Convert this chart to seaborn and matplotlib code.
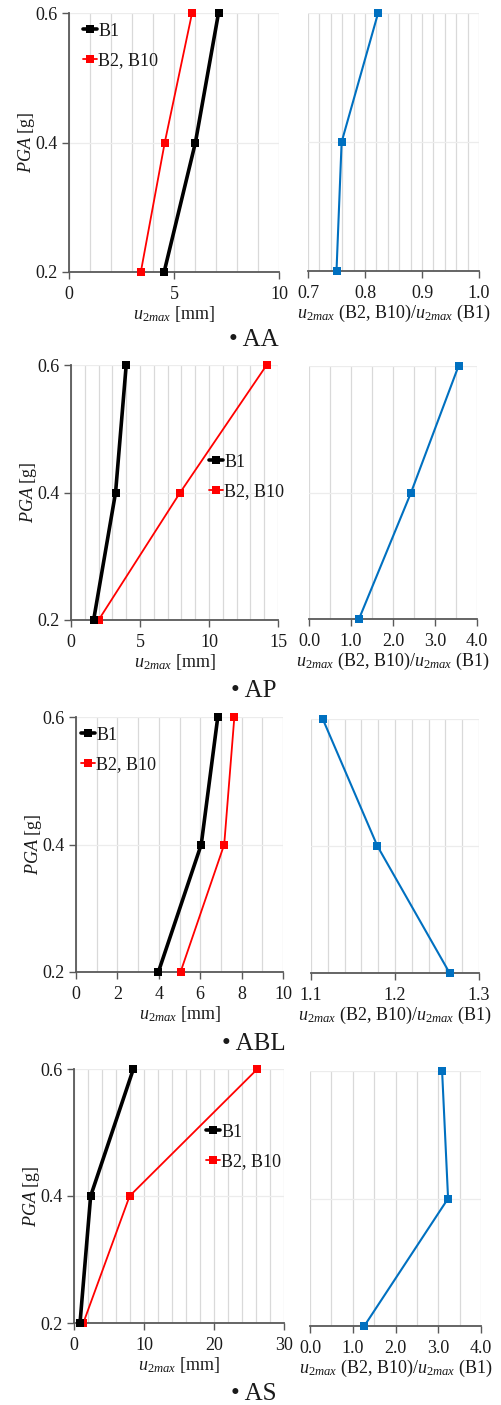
import numpy as np
import pandas as pd
import matplotlib
matplotlib.use("Agg")
import matplotlib.pyplot as plt
from matplotlib.ticker import MultipleLocator, FormatStrFormatter
import seaborn as sns

sns.set_style("white")
plt.rcParams['font.family'] = ['Liberation Serif', 'DejaVu Serif']
plt.rcParams['mathtext.fontset'] = 'custom'
plt.rcParams['mathtext.rm'] = 'Liberation Serif'
plt.rcParams['mathtext.it'] = 'Liberation Serif:italic'

# ---------------- data ----------------
pga = [0.2, 0.4, 0.6]
cases = ["AA", "AP", "ABL", "AS"]
b1 = {"AA": [4.53, 6.02, 7.12], "AP": [1.64, 3.23, 4.00],
      "ABL": [3.98, 6.05, 6.85], "AS": [0.86, 2.38, 8.48]}
b2b10 = {"AA": [3.42, 4.56, 5.86], "AP": [2.00, 7.91, 14.18],
         "ABL": [5.05, 7.16, 7.65], "AS": [1.33, 7.95, 26.2]}
ratio = {"AA": [0.750, 0.759, 0.823], "AP": [1.19, 2.43, 3.56],
         "ABL": [1.265, 1.179, 1.114], "AS": [1.27, 3.23, 3.09]}
series_labels = ["B1", "B2, B10"]

# ---------------- layout (pixels) ----------------
W, H = 501, 1405
fig = plt.figure(figsize=(W / 100, H / 100), dpi=100)

def px_axes(x0, y0, x1, y1):
    return fig.add_axes([x0 / W, 1 - y1 / H, (x1 - x0) / W, (y1 - y0) / H])

left_boxes = {"AA": (69, 13, 279, 272), "AP": (71, 365, 278, 620),
              "ABL": (76, 717, 283, 972), "AS": (74, 1069, 284, 1323)}
right_boxes = {"AA": (308, 13, 479, 271), "AP": (309, 366, 477, 619),
               "ABL": (311, 719, 479, 973), "AS": (310, 1071, 481, 1326)}
left_x = {"AA": (0, 10, 5, 1, "%d"), "AP": (0, 15, 5, 1, "%d"),
          "ABL": (0, 10, 2, 1, "%d"), "AS": (0, 30, 10, 2, "%d")}
right_x = {"AA": (0.7, 1.0, 0.1, 0.02), "AP": (0.0, 4.0, 1.0, 0.5),
           "ABL": (1.1, 1.3, 0.1, 0.02), "AS": (0.0, 4.0, 1.0, 0.5)}
legend_anchor = {"AA": (83, 46), "AP": (209, 477), "ABL": (81, 750), "AS": (206, 1147)}
title_y = {"AA": 340, "AP": 691, "ABL": 1044, "AS": 1394}

FS = 13
GRIDV = '#d9d9d9'
GRIDH = '#ececec'
SPINE = '#595959'
TXT = '#1a1a1a'

def style_axes(ax, xmin, xmax, major, minor, fmt, ylabels):
    ax.set_xlim(xmin, xmax)
    ax.set_ylim(0.2, 0.6)
    ax.xaxis.set_major_locator(MultipleLocator(major))
    ax.xaxis.set_minor_locator(MultipleLocator(minor))
    ax.xaxis.set_major_formatter(FormatStrFormatter(fmt))
    ax.set_yticks([0.2, 0.4, 0.6])
    ax.grid(True, which='both', axis='x', color=GRIDV, lw=0.9)
    ax.grid(True, which='major', axis='y', color=GRIDH, lw=0.9)
    ax.set_axisbelow(True)
    for s in ['top', 'right']:
        ax.spines[s].set_visible(False)
    ax.spines['bottom'].set_color(SPINE)
    ax.spines['bottom'].set_linewidth(1.3)
    if ylabels:
        ax.spines['left'].set_color(SPINE)
        ax.spines['left'].set_linewidth(1.3)
        ax.yaxis.set_major_formatter(FormatStrFormatter('%.1f'))
        ax.tick_params(axis='y', which='major', length=5, width=1.0, color=SPINE,
                       labelsize=FS, labelcolor=TXT, pad=3, left=True)
    else:
        ax.spines['left'].set_visible(False)
        ax.tick_params(axis='y', which='both', length=0, labelleft=False)
    ax.tick_params(axis='x', which='major', length=5, width=1.0, color=SPINE,
                   labelsize=FS, labelcolor=TXT, pad=5, bottom=True)
    ax.tick_params(axis='x', which='minor', length=0)
    ax.set_xlabel('')
    ax.set_ylabel('')

for case in cases:
    # left panel: displacement
    axl = px_axes(*left_boxes[case])
    df = pd.DataFrame({"u": b1[case] + b2b10[case],
                       "pga": pga + pga,
                       "series": [series_labels[0]] * 3 + [series_labels[1]] * 3})
    sns.lineplot(data=df[df.series == "B1"], x="u", y="pga", sort=False, estimator=None,
                 color='black', lw=2.6, marker='s', markersize=6, markeredgewidth=0,
                 label="B1", ax=axl, clip_on=False, zorder=4)
    sns.lineplot(data=df[df.series == "B2, B10"], x="u", y="pga", sort=False, estimator=None,
                 color='#ff0000', lw=1.3, marker='s', markersize=6, markeredgewidth=0,
                 label="B2, B10", ax=axl, clip_on=False, zorder=3)
    xmin, xmax, major, minor, fmt = left_x[case]
    style_axes(axl, xmin, xmax, major, minor, fmt, True)
    axl.set_xlabel(r'$\mathit{u_{2max}}$ [mm]', fontsize=FS, color=TXT, labelpad=1)
    axl.set_ylabel(r'$\mathit{PGA}$ [g]', fontsize=FS, color=TXT, labelpad=-1)
    lx, ly = legend_anchor[case]
    axl.legend(loc='center left', bbox_to_anchor=(lx / W, 1 - ly / H),
               bbox_transform=fig.transFigure, frameon=False, fontsize=FS,
               handlelength=0.8, handletextpad=0.05, labelspacing=0.7,
               borderpad=0, borderaxespad=0)
    for t in axl.get_legend().get_texts():
        t.set_color(TXT)

    # right panel: ratio
    axr = px_axes(*right_boxes[case])
    sns.lineplot(x=ratio[case], y=pga, sort=False, estimator=None, color='#0070c0',
                 lw=1.5, marker='s', markersize=6, markeredgewidth=0, ax=axr,
                 clip_on=False, zorder=3)
    rmin, rmax, rmaj, rmin_step = right_x[case]
    style_axes(axr, rmin, rmax, rmaj, rmin_step, '%.1f', False)
    axr.set_xlabel(r'$\mathit{u_{2max}}$ (B2, B10)/$\mathit{u_{2max}}$ (B1)',
                   fontsize=FS, color=TXT, labelpad=1)

    fig.text(254 / W, 1 - title_y[case] / H, '\u2022 ' + case, ha='center', va='center',
             fontsize=18, color=TXT)

fig.savefig('out.png', dpi=100)
